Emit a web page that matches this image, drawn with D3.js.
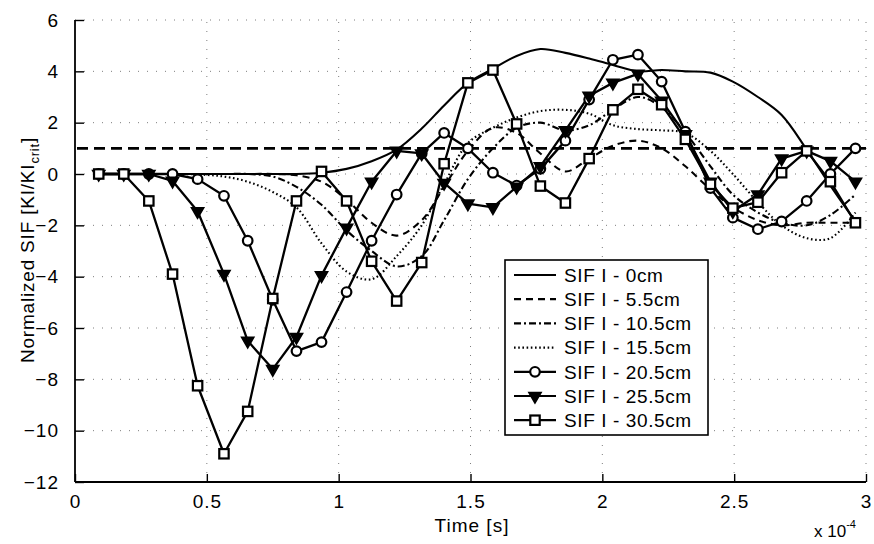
<!DOCTYPE html>
<html>
<head>
<meta charset="utf-8">
<script src="https://cdn.jsdelivr.net/npm/d3@7"></script>
<style>
  html, body { margin: 0; padding: 0; background: #fff; }
  svg { display: block; }
  text { font-family: "Liberation Sans", Arial, Helvetica, sans-serif; fill: #000; }
</style>
</head>
<body>
<svg id="chart" width="874" height="544"></svg>
<script>
// Sample times (x 1e-4 s)
const times = [0.09, 0.185, 0.28, 0.37, 0.465, 0.565, 0.655, 0.75, 0.84, 0.935,
               1.03, 1.125, 1.22, 1.315, 1.40, 1.49, 1.585, 1.675, 1.765, 1.86,
               1.95, 2.04, 2.135, 2.225, 2.315, 2.41, 2.495, 2.59, 2.68, 2.775,
               2.865, 2.96];

// Normalized SIF values per gauge position
const sif0 = [0, 0, 0, 0, 0, 0, 0, 0, 0, 0.05,
              0.2, 0.5, 0.95, 1.77, 2.67, 3.55, 4.1, 4.6, 4.87, 4.72,
              4.5, 4.25, 4.0, 4.05, 4.0, 3.95, 3.6, 3.0, 2.3, 0.95,
              -0.45, -1.85];
const sif55 = [0, 0, 0, 0, 0, 0, 0, 0, -0.05, -0.3,
               -1.0, -1.9, -2.4, -1.8, -0.5, 0.9, 1.8, 1.6, 0.8, 0.1,
               0.6, 1.1, 1.3, 1.0, 0.3, -0.6, -1.3, -1.8, -2.0, -1.9,
               -1.9, -1.9];
const sif105 = [0, 0, 0, 0, 0, 0, 0, -0.1, -0.5, -1.2,
                -2.2, -3.0, -3.6, -3.2, -1.8, -0.2, 1.0, 1.8, 2.0, 1.7,
                1.9, 2.5, 3.0, 2.6, 1.6, 0.3, -0.8, -1.5, -1.9, -2.0,
                -1.6, -0.8];
const sif155 = [0, 0, 0, 0, -0.02, -0.1, -0.3, -0.7, -1.3, -2.7,
                -3.8, -4.1, -3.2, -2.0, -0.4, 1.2, 1.8, 2.2, 2.45, 2.5,
                2.35, 1.9, 1.75, 1.7, 1.6, 0.9, 0.0, -1.1, -2.0, -2.5,
                -2.5, -1.5];
const sif205 = [0, 0, 0, 0, -0.2, -0.85, -2.6, -4.9, -6.9, -6.55,
                -4.6, -2.6, -0.8, 0.8, 1.6, 1.0, 0.05, -0.45, 0.2, 1.3,
                2.9, 4.45, 4.65, 3.6, 1.65, -0.55, -1.7, -2.15, -1.85, -1.05,
                0.0, 1.0];
const sif255 = [0, 0, 0, -0.27, -1.45, -3.9, -6.5, -7.6, -6.35, -3.95,
                -2.1, -0.3, 0.9, 0.8, -0.35, -1.15, -1.3, -0.5, 0.3, 1.7,
                3.05, 3.55, 3.9, 2.85, 1.55, -0.3, -1.45, -0.8, 0.6, 0.9,
                0.5, -0.3];
const sif305 = [0, 0, -1.05, -3.9, -8.25, -10.9, -9.25, -4.85, -1.05, 0.1,
                -1.05, -3.4, -4.95, -3.45, 0.4, 3.55, 4.05, 1.95, -0.47, -1.13,
                0.6, 2.5, 3.3, 2.7, 1.35, -0.4, -1.33, -1.1, 0.05, 0.9,
                -0.3, -1.9];

const seriesNames = ["SIF I - 0cm", "SIF I - 5.5cm", "SIF I - 10.5cm", "SIF I - 15.5cm",
                     "SIF I - 20.5cm", "SIF I - 25.5cm", "SIF I - 30.5cm"];
const criticalLevel = 1;
const xTicks = [0, 0.5, 1, 1.5, 2, 2.5, 3];
const yTicks = [-12, -10, -8, -6, -4, -2, 0, 2, 4, 6];

const series = [
  { name: seriesNames[0], values: sif0,   dash: null,          marker: null,  smooth: true },
  { name: seriesNames[1], values: sif55,  dash: "7,5",         marker: null,  smooth: true },
  { name: seriesNames[2], values: sif105, dash: "7,3,2,3",     marker: null,  smooth: true },
  { name: seriesNames[3], values: sif155, dash: "1.6,2.6",     marker: null,  smooth: true },
  { name: seriesNames[4], values: sif205, dash: null,          marker: "circle",   smooth: false },
  { name: seriesNames[5], values: sif255, dash: null,          marker: "triangle", smooth: false },
  { name: seriesNames[6], values: sif305, dash: null,          marker: "square",   smooth: false }
];

const svg = d3.select("#chart");
const x = d3.scaleLinear().domain([0, 3]).range([75, 866]);
const y = d3.scaleLinear().domain([-12, 6]).range([482, 20]);

// dotted grid
const grid = svg.append("g").attr("stroke", "#000").attr("stroke-width", 1)
  .attr("stroke-dasharray", "1,8").attr("opacity", 0.5);
grid.selectAll("line.gx").data(xTicks.slice(1)).join("line")
  .attr("x1", d => x(d)).attr("x2", d => x(d)).attr("y1", y(-12)).attr("y2", y(6));
grid.selectAll("line.gy").data(yTicks.slice(1)).join("line")
  .attr("x1", x(0)).attr("x2", x(3)).attr("y1", d => y(d)).attr("y2", d => y(d));

// axes
const xAxis = d3.axisBottom(x).tickValues(xTicks).tickSize(-8).tickPadding(16)
  .tickFormat(d3.format("~g"));
const yAxis = d3.axisLeft(y).tickValues(yTicks).tickSize(-9).tickPadding(16)
  .tickFormat(d3.format("~g"));

const gx = svg.append("g").attr("transform", `translate(0,${y(-12)})`).call(xAxis);
const gy = svg.append("g").attr("transform", `translate(${x(0)},0)`).call(yAxis);
[gx, gy].forEach(g => {
  g.select(".domain").attr("stroke", "#000").attr("stroke-width", 1.8);
  g.selectAll(".tick line").attr("stroke", "#000").attr("stroke-width", 1.4);
  g.selectAll(".tick text").attr("font-size", 19).attr("letter-spacing", 1)
    .attr("font-family", "Liberation Sans, Arial, sans-serif").attr("fill", "#000");
});
gy.select(".domain").attr("d", `M0,${y(6)}V${y(-12)}`);
gx.select(".domain").attr("d", `M${x(0)},0H${x(3)}`);
gx.selectAll(".tick text").attr("dy", "0.55em");

// critical level line
svg.append("line")
  .attr("x1", x(0) + 2).attr("x2", x(3))
  .attr("y1", y(criticalLevel)).attr("y2", y(criticalLevel))
  .attr("stroke", "#000").attr("stroke-width", 2.8).attr("stroke-dasharray", "11,6");

// series lines
const plot = svg.append("g");
series.forEach(s => {
  const line = d3.line()
    .x((d, i) => x(times[i]))
    .y(d => y(d))
    .curve(s.smooth ? d3.curveCatmullRom.alpha(0.5) : d3.curveLinear);
  plot.append("path")
    .datum(s.values)
    .attr("d", line)
    .attr("fill", "none")
    .attr("stroke", "#000")
    .attr("stroke-width", s.marker ? 2.3 : 2.1)
    .attr("stroke-linejoin", "round")
    .attr("stroke-dasharray", s.dash);
});

function drawMarker(g, type, cx, cy) {
  if (type === "circle") {
    g.append("circle").attr("cx", cx).attr("cy", cy).attr("r", 4.8)
      .attr("fill", "#fff").attr("stroke", "#000").attr("stroke-width", 2.2);
  } else if (type === "square") {
    g.append("rect").attr("x", cx - 4.7).attr("y", cy - 4.7).attr("width", 9.4).attr("height", 9.4)
      .attr("fill", "#fff").attr("stroke", "#000").attr("stroke-width", 2.2);
  } else if (type === "triangle") {
    const tri = d3.symbol().type(d3.symbolTriangle).size(64);
    g.append("path").attr("d", tri()).attr("transform", `translate(${cx},${cy}) rotate(180)`)
      .attr("fill", "#000").attr("stroke", "#000").attr("stroke-width", 1.6);
  }
}

series.filter(s => s.marker).forEach(s => {
  const g = plot.append("g");
  s.values.forEach((v, i) => drawMarker(g, s.marker, x(times[i]), y(v)));
});

// legend
const legend = svg.append("g");
legend.append("rect").attr("x", 505).attr("y", 260).attr("width", 203).attr("height", 175)
  .attr("fill", "#fff").attr("stroke", "#000").attr("stroke-width", 1.6);
series.forEach((s, i) => {
  const ly = 275 + i * 24.2;
  legend.append("line").attr("x1", 514).attr("x2", 556).attr("y1", ly).attr("y2", ly)
    .attr("stroke", "#000").attr("stroke-width", 2.2).attr("stroke-dasharray", s.dash);
  if (s.marker) drawMarker(legend, s.marker, 535, ly);
  legend.append("text").attr("x", 564).attr("y", ly).attr("dy", "0.36em")
    .attr("font-size", 19).attr("letter-spacing", 0.6).text(s.name);
});

// axis titles
svg.append("text").attr("x", 472).attr("y", 532).attr("text-anchor", "middle")
  .attr("font-size", 19).attr("letter-spacing", 1).text("Time [s]");

const yl = svg.append("text")
  .attr("transform", "translate(34,250) rotate(-90)")
  .attr("text-anchor", "middle").attr("font-size", 19).attr("letter-spacing", 0.8);
yl.append("tspan").text("Normalized SIF [KI/KI");
yl.append("tspan").attr("font-size", 13).attr("dy", 5).text("crit");
yl.append("tspan").attr("dy", -5).text("]");

const ex = svg.append("text").attr("x", 814).attr("y", 537).attr("font-size", 17);
ex.append("tspan").text("x 10");
ex.append("tspan").attr("font-size", 11).attr("dy", -9).text("-4");
</script>
</body>
</html>
